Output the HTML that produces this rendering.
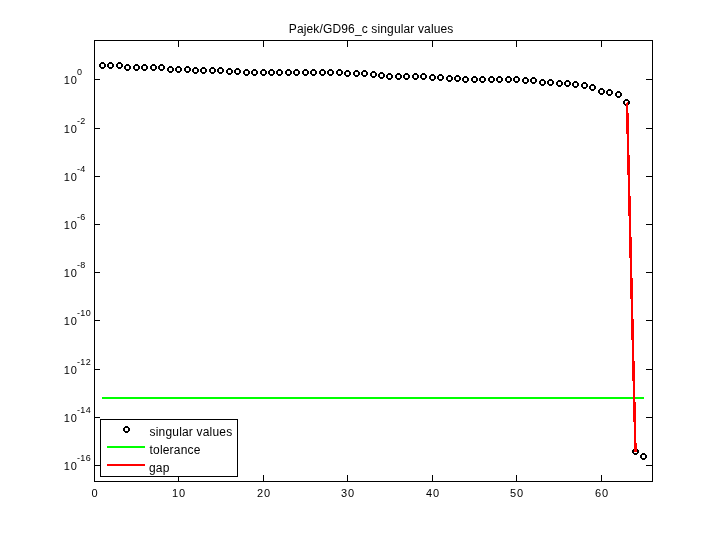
<!DOCTYPE html>
<html lang="en"><head><meta charset="utf-8"><title>Pajek/GD96_c singular values</title>
<style>
html,body{margin:0;padding:0;background:#fff;overflow:hidden}
svg{display:block}
text{font-family:"Liberation Sans",sans-serif;fill:#000}
.t{font-size:11px;letter-spacing:0.9px}.e{font-size:9px;letter-spacing:0.35px}.L{font-size:12px;letter-spacing:0.19px}.T{font-size:12px;letter-spacing:0.14px}
</style></head><body>
<svg width="720" height="540" viewBox="0 0 720 540">
<defs><path id="m" fill-rule="evenodd" d="M2,0H5V1H6V2H7V5H6V6H5V7H2V6H1V5H0V2H1V1H2ZM2,2V5H5V2Z"/></defs>
<rect width="720" height="540" fill="#fff"/>
<g shape-rendering="crispEdges" stroke="#000" stroke-width="1" fill="none">
<rect x="94.5" y="40.5" width="558" height="441"/>
<path d="M178.5,481V475M178.5,41V47M263.5,481V475M263.5,41V47M347.5,481V475M347.5,41V47M432.5,481V475M432.5,41V47M516.5,481V475M516.5,41V47M601.5,481V475M601.5,41V47M95,79.5H100M652,79.5H646M95,128.5H100M652,128.5H646M95,176.5H100M652,176.5H646M95,224.5H100M652,224.5H646M95,272.5H100M652,272.5H646M95,320.5H100M652,320.5H646M95,369.5H100M652,369.5H646M95,417.5H100M652,417.5H646M95,465.5H100M652,465.5H646"/>
</g>
<rect x="102" y="397" width="542" height="2" fill="#0f0"/>
<g fill="#000">
<use href="#m" x="99" y="62"/>
<use href="#m" x="107" y="62"/>
<use href="#m" x="116" y="62"/>
<use href="#m" x="124" y="64"/>
<use href="#m" x="133" y="64"/>
<use href="#m" x="141" y="64"/>
<use href="#m" x="150" y="64"/>
<use href="#m" x="158" y="64"/>
<use href="#m" x="167" y="66"/>
<use href="#m" x="175" y="66"/>
<use href="#m" x="184" y="66"/>
<use href="#m" x="192" y="67"/>
<use href="#m" x="200" y="67"/>
<use href="#m" x="209" y="67"/>
<use href="#m" x="217" y="67"/>
<use href="#m" x="226" y="68"/>
<use href="#m" x="234" y="68"/>
<use href="#m" x="243" y="69"/>
<use href="#m" x="251" y="69"/>
<use href="#m" x="260" y="69"/>
<use href="#m" x="268" y="69"/>
<use href="#m" x="276" y="69"/>
<use href="#m" x="285" y="69"/>
<use href="#m" x="293" y="69"/>
<use href="#m" x="302" y="69"/>
<use href="#m" x="310" y="69"/>
<use href="#m" x="319" y="69"/>
<use href="#m" x="327" y="69"/>
<use href="#m" x="336" y="69"/>
<use href="#m" x="344" y="70"/>
<use href="#m" x="353" y="70"/>
<use href="#m" x="361" y="70"/>
<use href="#m" x="370" y="71"/>
<use href="#m" x="378" y="72"/>
<use href="#m" x="386" y="73"/>
<use href="#m" x="395" y="73"/>
<use href="#m" x="403" y="73"/>
<use href="#m" x="412" y="73"/>
<use href="#m" x="420" y="73"/>
<use href="#m" x="429" y="74"/>
<use href="#m" x="437" y="74"/>
<use href="#m" x="446" y="75"/>
<use href="#m" x="454" y="75"/>
<use href="#m" x="462" y="76"/>
<use href="#m" x="471" y="76"/>
<use href="#m" x="479" y="76"/>
<use href="#m" x="488" y="76"/>
<use href="#m" x="496" y="76"/>
<use href="#m" x="505" y="76"/>
<use href="#m" x="513" y="76"/>
<use href="#m" x="522" y="77"/>
<use href="#m" x="530" y="77"/>
<use href="#m" x="539" y="79"/>
<use href="#m" x="547" y="79"/>
<use href="#m" x="556" y="80"/>
<use href="#m" x="564" y="80"/>
<use href="#m" x="572" y="81"/>
<use href="#m" x="581" y="82"/>
<use href="#m" x="589" y="84"/>
<use href="#m" x="598" y="88"/>
<use href="#m" x="606" y="89"/>
<use href="#m" x="615" y="91"/>
<use href="#m" x="623" y="99"/>
<use href="#m" x="632" y="448"/>
<use href="#m" x="640" y="453"/>
</g>
<line x1="627" y1="102.5" x2="635.5" y2="452" stroke="#f00" stroke-width="2.5" shape-rendering="crispEdges"/>
<g shape-rendering="crispEdges"><rect x="100.5" y="419.5" width="137" height="57" fill="#fff" stroke="#000"/>
<rect x="107" y="446" width="38" height="2" fill="#0f0"/><rect x="107" y="464" width="38" height="2" fill="#f00"/></g>
<use href="#m" x="123" y="426"/>
<text class="L" x="149.5" y="436">singular values</text>
<text class="L" x="149.5" y="454">tolerance</text>
<text class="L" x="149" y="472">gap</text>
<text class="T" x="288.8" y="33">Pajek/GD96_c singular values</text>
<text class="t" x="95" y="497" text-anchor="middle">0</text>
<text class="t" x="179" y="497" text-anchor="middle">10</text>
<text class="t" x="264" y="497" text-anchor="middle">20</text>
<text class="t" x="348" y="497" text-anchor="middle">30</text>
<text class="t" x="433" y="497" text-anchor="middle">40</text>
<text class="t" x="517" y="497" text-anchor="middle">50</text>
<text class="t" x="602" y="497" text-anchor="middle">60</text>
<text class="t" x="77.7" y="84" text-anchor="end">10</text><text class="e" x="77" y="75">0</text>
<text class="t" x="77.7" y="133" text-anchor="end">10</text><text class="e" x="77" y="124">-2</text>
<text class="t" x="77.7" y="181" text-anchor="end">10</text><text class="e" x="77" y="172">-4</text>
<text class="t" x="77.7" y="229" text-anchor="end">10</text><text class="e" x="77" y="220">-6</text>
<text class="t" x="77.7" y="277" text-anchor="end">10</text><text class="e" x="77" y="268">-8</text>
<text class="t" x="77.7" y="325" text-anchor="end">10</text><text class="e" x="77" y="316">-10</text>
<text class="t" x="77.7" y="374" text-anchor="end">10</text><text class="e" x="77" y="365">-12</text>
<text class="t" x="77.7" y="422" text-anchor="end">10</text><text class="e" x="77" y="413">-14</text>
<text class="t" x="77.7" y="470" text-anchor="end">10</text><text class="e" x="77" y="461">-16</text>
</svg></body></html>
